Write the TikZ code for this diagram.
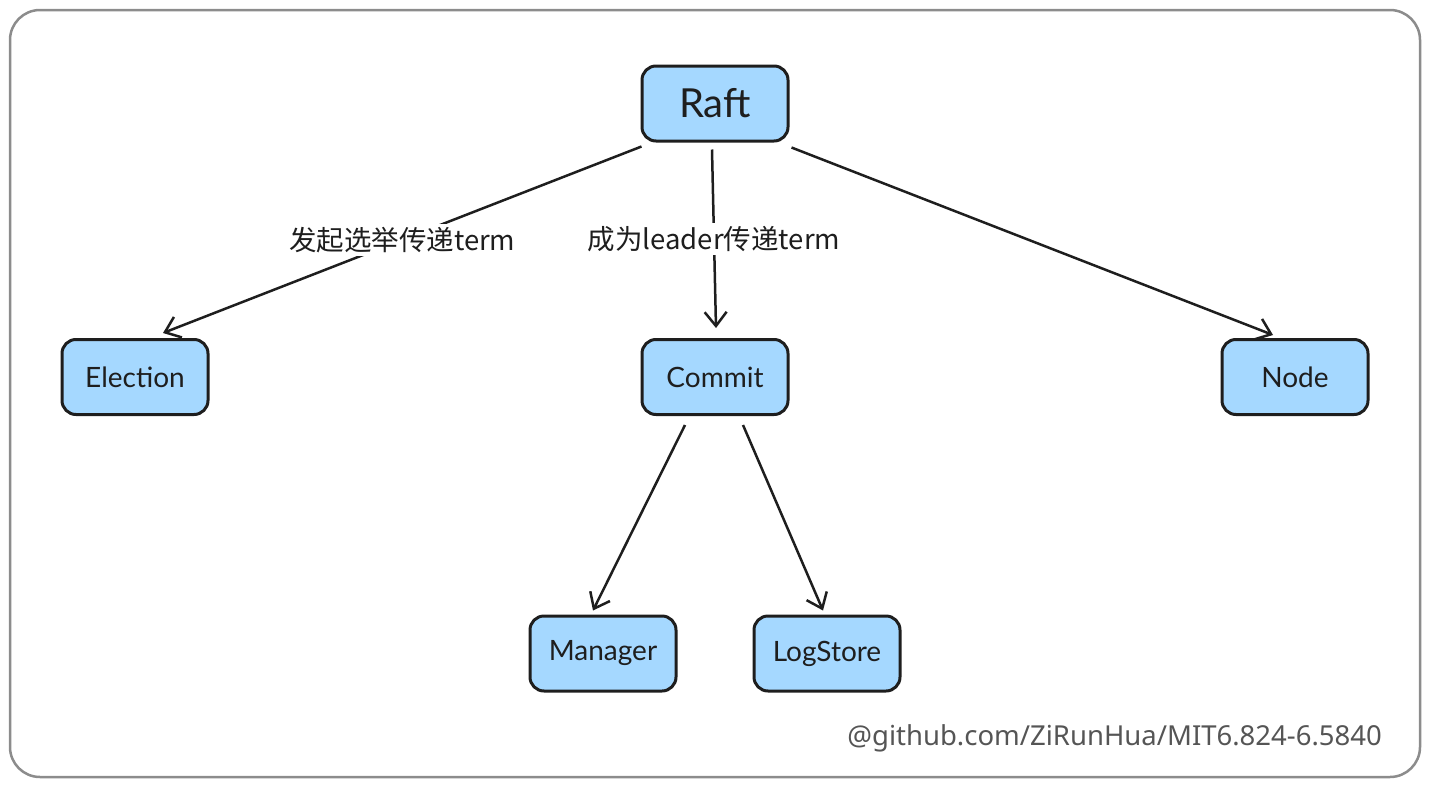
\documentclass[tikz,border=0pt]{standalone}
\usepackage{fontspec}
\setmainfont{Lato}
\newfontfamily\cjk{Noto Sans CJK SC}
\newfontfamily\wm{Noto Sans}
\usetikzlibrary{arrows.meta}
\definecolor{boxfill}{HTML}{A5D8FF}
\definecolor{ink}{HTML}{1E1E1E}
\definecolor{frame}{HTML}{8C8C8C}
\definecolor{wmgray}{HTML}{555555}
\tikzset{
  box/.style={draw=ink, fill=boxfill, line width=3pt, rounded corners=14pt,
    minimum width=146pt, minimum height=75pt, inner sep=0pt, text=ink,
    font=\fontsize{28}{31}\selectfont},
  conn/.style={draw=ink, line width=2.5pt,
    -{Straight Barb[length=14pt,width=22pt,line width=2.5pt]}},
  elabel/.style={fill=white, inner sep=3pt, text=ink, font=\cjk\fontsize{27.5}{30}\selectfont}
}
\begin{document}
\begin{tikzpicture}[x=1pt,y=-1pt]
\useasboundingbox (0,0) rectangle (1430,787);
\draw[frame, line width=2.5pt, rounded corners=30pt] (10,10) rectangle (1420,777);

\node[box, font=\fontsize{40}{44}\selectfont] (raft) at (715,103.5) {Raft};
\node[box] (election) at (135,377) {Election};
\node[box] (commit) at (715,377) {Commit};
\node[box] (nodeb) at (1295,377) {Node};
\node[box] (manager) at (603,653.5) {Manager};
\node[box] (logstore) at (827,653.5) {LogStore};

\draw[conn] ([xshift=1pt,yshift=-4pt]raft.south west) -- node[elabel] {发起选举传递term} ([xshift=28pt,yshift=5pt]election.north);
\draw[conn] ([xshift=-3pt,yshift=-7pt]raft.south) -- node[elabel] {成为leader传递term} ([xshift=1pt,yshift=10pt]commit.north);
\draw[conn] ([xshift=2pt,yshift=-5pt]raft.south east) -- ([xshift=-22pt,yshift=3pt]nodeb.north);
\draw[conn] ([xshift=-30pt,yshift=-9pt]commit.south) -- ([xshift=-10pt,yshift=4pt]manager.north);
\draw[conn] ([xshift=28pt,yshift=-9pt]commit.south) -- ([xshift=-4pt,yshift=4pt]logstore.north);

\node[anchor=base east, text=wmgray, font=\wm\fontsize{27.5}{30}\selectfont, inner sep=0pt] (wmark) at (1382,745) {@github.com/ZiRunHua/MIT6.824-6.5840};
\end{tikzpicture}
\end{document}
